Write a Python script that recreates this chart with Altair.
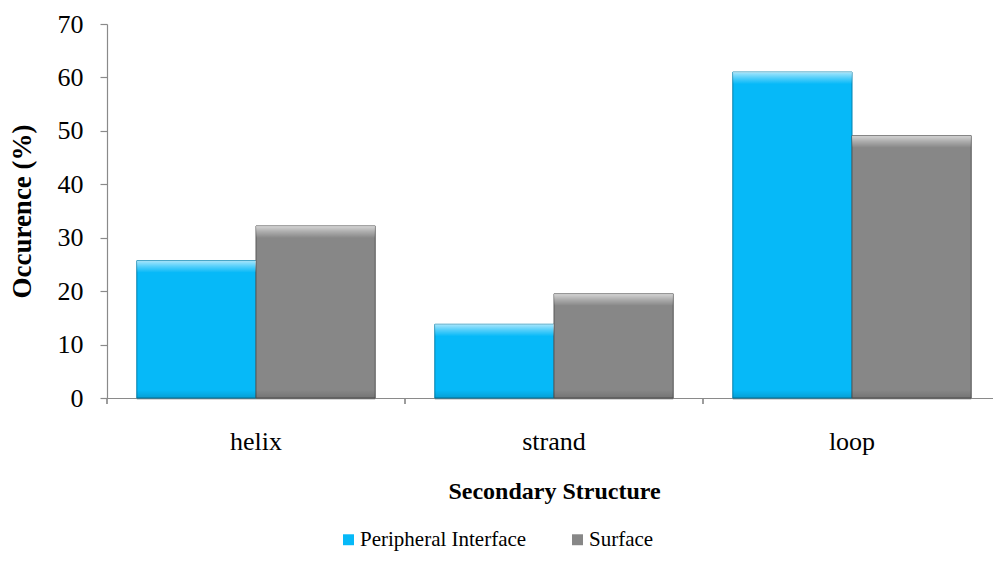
import altair as alt
import pandas as pd

# Share of residues in each secondary-structure class (%)
categories = ["helix", "strand", "loop"]
series = ["Peripheral Interface", "Surface"]
peripheral = [25.7, 13.8, 61.0]
surface = [32.2, 19.5, 49.1]

fill_colors = ["#06B9F8", "#878787"]
edge_colors = ["#0380AD", "#585858"]
y_ticks = [0, 10, 20, 30, 40, 50, 60, 70]

rows = []
for i, cat in enumerate(categories):
    rows.append({"category": cat, "series": series[0], "value": peripheral[i]})
    rows.append({"category": cat, "series": series[1], "value": surface[i]})
df = pd.DataFrame(rows)

FONT = "'Liberation Serif', 'Times New Roman', 'DejaVu Serif', serif"
GRAY = "#8A8A8A"

x_scale = alt.Scale(range=[0, 894], paddingInner=0, paddingOuter=0)
y_scale = alt.Scale(domain=[0, 70])

x_axis = alt.Axis(title="Secondary Structure", ticks=False,
                  labelFont=FONT, labelFontSize=26, labelColor="#000000",
                  labelPadding=30, labelAngle=0,
                  titleFont=FONT, titleFontSize=24, titleFontWeight="bold",
                  titleColor="#000000", titlePadding=25,
                  domainColor=GRAY, domainWidth=1.2)
y_axis = alt.Axis(title="Occurence (%)", values=y_ticks, grid=False,
                  tickSize=7, tickColor=GRAY, tickWidth=1.2,
                  domainColor=GRAY, domainWidth=1.2,
                  labelFont=FONT, labelFontSize=26, labelColor="#000000",
                  labelPadding=17,
                  titleFont=FONT, titleFontSize=27, titleFontWeight="bold",
                  titleColor="#000000", titlePadding=21)

x_enc = alt.X("category:N", sort=categories, scale=x_scale, axis=x_axis)
x_offset = alt.XOffset("series:N", sort=series,
                       scale=alt.Scale(paddingInner=0, paddingOuter=0.25))
y_enc = alt.Y("value:Q", scale=y_scale, axis=y_axis)

base = alt.Chart(df)

# soft drop shadow behind each bar
shadow = base.mark_bar(color="#000000", opacity=0.16, xOffset=3, x2Offset=3,
                       yOffset=2, y2Offset=3).encode(
    x=x_enc, xOffset=x_offset, y=y_enc
)

# main bars with the legend
bars = base.mark_bar(strokeWidth=1).encode(
    x=x_enc,
    xOffset=x_offset,
    y=y_enc,
    color=alt.Color("series:N", sort=series,
                    scale=alt.Scale(domain=series, range=fill_colors),
                    legend=alt.Legend(title=None, orient="none", direction="horizontal",
                                      legendX=231, legendY=505,
                                      labelFont=FONT, labelFontSize=21,
                                      labelColor="#000000", labelOffset=1,
                                      labelLimit=0,
                                      symbolType="square", symbolSize=120,
                                      symbolStrokeWidth=0, columnPadding=40)),
    stroke=alt.Stroke("series:N", sort=series,
                      scale=alt.Scale(domain=series, range=edge_colors), legend=None),
)

# light bevel along the top edge of each bar
top_glow = alt.Gradient(
    gradient="linear", x1=0, x2=0, y1=0, y2=1,
    stops=[alt.GradientStop(color="rgba(255,255,255,0.65)", offset=0),
           alt.GradientStop(color="rgba(255,255,255,0.3)", offset=0.5),
           alt.GradientStop(color="rgba(255,255,255,0)", offset=1)],
)
highlight = base.mark_bar(fill=top_glow, y2Offset=12, xOffset=1, x2Offset=-1).encode(
    x=x_enc, xOffset=x_offset, y=y_enc, y2=alt.Y2("value:Q")
)

# darker bevel along the bottom edge
bottom_shade = alt.Gradient(
    gradient="linear", x1=0, x2=0, y1=0, y2=1,
    stops=[alt.GradientStop(color="rgba(0,0,0,0)", offset=0),
           alt.GradientStop(color="rgba(0,0,0,0.14)", offset=1)],
)
lowlight = base.mark_bar(fill=bottom_shade, yOffset=-8, xOffset=1, x2Offset=-1).encode(
    x=x_enc, xOffset=x_offset,
    y=alt.Y(datum=0, scale=y_scale, axis=y_axis), y2=alt.datum(0)
)

# category separators below the x axis
sep = base.mark_rule(color=GRAY, strokeWidth=1.2, y2Offset=6).encode(
    x=alt.X("category:N", sort=categories, scale=x_scale, axis=x_axis, bandPosition=0),
    y=alt.Y(datum=0, scale=y_scale, axis=y_axis), y2=alt.datum(0),
)

chart = alt.layer(shadow, bars, highlight, lowlight, sep).properties(
    width=886, height=374,
    autosize=alt.AutoSizeParams(type="none"),
    padding={"left": 107, "top": 24, "right": 0, "bottom": 176},
    background="white",
).configure(
    font=FONT,
).configure_axis(
    labelFont=FONT, titleFont=FONT,
).configure_legend(
    labelFont=FONT, titleFont=FONT,
).configure_view(stroke=None)

chart.save("out.html", embed_options={"renderer": "svg", "actions": False})
